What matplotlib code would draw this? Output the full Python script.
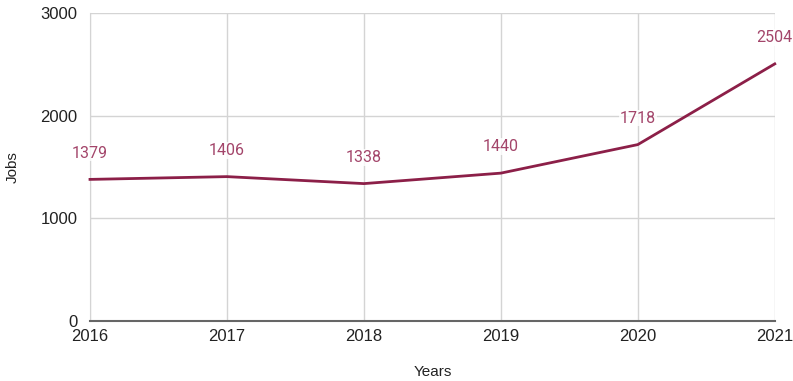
import matplotlib.pyplot as plt

years = [2016, 2017, 2018, 2019, 2020, 2021]
jobs = [1379, 1406, 1338, 1440, 1718, 2504]
y_ticks = [0, 1000, 2000, 3000]

line_color = "#8c1f48"
label_color = "#a3456a"

fig = plt.figure(figsize=(7.93, 3.81), dpi=100)
ax = fig.add_axes([0.1135, 0.1575, 0.8635, 0.8085])

ax.plot(years, jobs, color=line_color, linewidth=2, zorder=3, clip_on=False)

# value labels above each point
for x, y in zip(years, jobs):
    ax.annotate(str(y), (x, y), xytext=(0, 19), textcoords="offset points",
                ha="center", va="center", fontsize=11.5, color=label_color,
                family="Roboto", annotation_clip=False,
                bbox=dict(boxstyle="square,pad=0.05", fc="white", ec="none", alpha=0.8))

ax.set_xlim(2016, 2021)
ax.set_ylim(0, 3000)
ax.set_xticks(years)
ax.set_yticks(y_ticks)
ax.grid(True, color="#d4d4d4", linewidth=1)
ax.set_axisbelow(True)

for s in ["top", "right"]:
    ax.spines[s].set_visible(False)
ax.spines["left"].set_color("#d4d4d4")
ax.spines["bottom"].set_color("#666666")
ax.spines["bottom"].set_linewidth(1.5)

ax.tick_params(length=0, labelsize=12, labelcolor="#222222")
ax.tick_params(axis="x", pad=6)
ax.tick_params(axis="y", pad=9)
for lab in ax.get_xticklabels() + ax.get_yticklabels():
    lab.set_family("Liberation Sans")

ax.set_xlabel("Years", fontsize=11, family="Liberation Sans", color="#222222", va="center")
ax.set_ylabel("Jobs", fontsize=11, family="Liberation Sans", color="#222222", va="center")
ax.xaxis.set_label_coords(0.5, -0.166)
ax.yaxis.set_label_coords(-0.113, 0.5)

fig.savefig("out.png", dpi=100)
